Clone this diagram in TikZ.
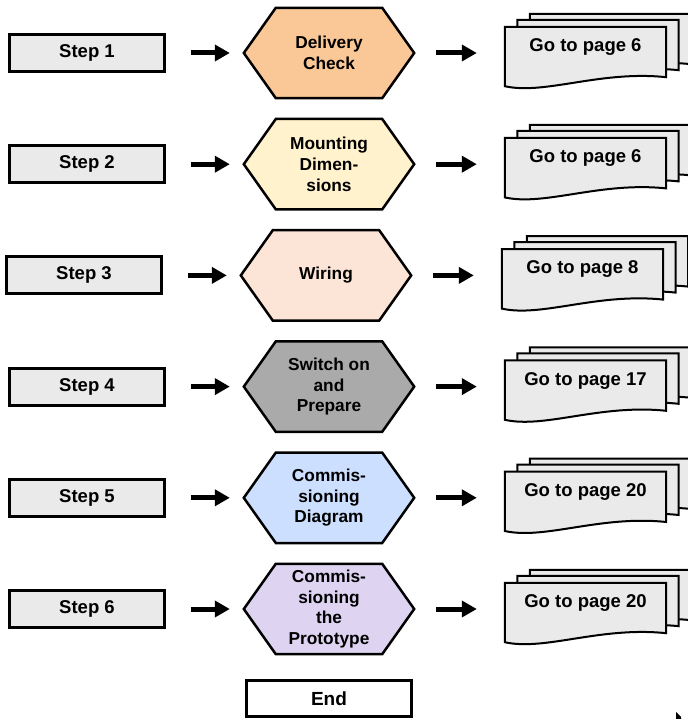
\documentclass[tikz,border=0pt]{standalone}
\usepackage{fontspec}
\setmainfont{Liberation Sans}
\usepackage{tikz}
\usetikzlibrary{arrows.meta}
\usetikzlibrary{calc}
\usetikzlibrary{backgrounds}
\definecolor{uigray}{RGB}{234, 234, 234}
\definecolor{delivery}{RGB}{250, 199, 150}
\definecolor{mounting}{RGB}{255, 242, 204}
\definecolor{wiring}{RGB}{252, 228, 214}
\definecolor{switchon}{RGB}{170, 170, 170}
\definecolor{diagram}{RGB}{204, 223, 255}
\definecolor{prototype}{RGB}{222, 212, 242}
\tikzstyle{stepbox} = [rectangle,fill=uigray,draw,line width=3pt,font=\bfseries\fontsize{18.5}{22}\selectfont,inner sep=0pt,minimum width=155pt,minimum height=37pt]
\tikzstyle{endbox} = [rectangle,fill=white,draw,line width=3pt,font=\bfseries\fontsize{19}{22}\selectfont,inner sep=0pt,minimum width=165pt,minimum height=36pt]
\tikzstyle{hexbox} = [align=center,font=\bfseries\fontsize{17.3}{20.7}\selectfont,inner sep=0pt,minimum width=170pt,minimum height=90pt]
\tikzstyle{hexline} = [draw,line width=2.5pt,line join=miter]
\tikzstyle{pagebox} = [font=\bfseries\fontsize{18.5}{22}\selectfont,inner sep=0pt,minimum width=161pt,minimum height=40pt]
\tikzstyle{pageline} = [fill=uigray,draw,line width=2pt]
\tikzstyle{inarrow} = [shorten <=24.5pt,shorten >=14pt]
\tikzstyle{outarrow} = [shorten <=22pt,shorten >=28pt]

\begin{document}
\begin{tikzpicture}[x=1pt,y=-1pt,node distance=111.2pt,> = {Triangle[length=15pt,width=16pt]}]
    \useasboundingbox (0,0) rectangle (687,719);

      \node[stepbox] (s1) at (87,53)             {Step 1};
      \node[stepbox] (s2) [below of=s1]          {Step 2};
      \node[stepbox] (s3) [below of=s2,xshift=-3pt] {Step 3};
      \node[stepbox] (s4) [below of=s3,xshift=3pt]  {Step 4};
      \node[stepbox] (s5) [below of=s4]          {Step 5};
      \node[stepbox] (s6) [below of=s5]          {Step 6};

      \foreach \i/\txt/\pg in {1/{Delivery\\Check}/6, 2/{Mounting\\Dimen-\\sions}/6,
          3/{Wiring}/8, 4/{Switch on\\and\\Prepare}/17,
          5/{Commis-\\sioning\\Diagram}/20, 6/{Commis-\\sioning\\the\\Prototype}/20} {
        \node[hexbox]  (h\i) [right of=s\i,node distance=242pt] {\txt};
        \node[pagebox] (d\i) [right of=h\i,node distance=256.5pt,yshift=6pt] {Go to page \pg};
      }

      \node[endbox] (end) [below of=h6,node distance=89.5pt] {End};

      \path[->, line width=5pt]
        \foreach \i in {1,...,6} {
          (s\i) edge[inarrow] (h\i)
          (h\i) edge[outarrow] (h\i -| d\i.west)
        } ;

      \begin{pgfonlayer}{background}
        \foreach \i/\c in {1/delivery,2/mounting,3/wiring,4/switchon,5/diagram,6/prototype} {
          \path[hexline,fill=\c] (h\i.west) -- ($(h\i.north west)+(32,0)$) -- ($(h\i.north east)+(-32,0)$)
            -- (h\i.east) -- ($(h\i.south east)+(-32,0)$) -- ($(h\i.south west)+(32,0)$) -- cycle;
          % stack of three pages, back one first
          \foreach \dx/\dy in {25/-13,12.5/-7,0/0} {
            \path[pageline,transform canvas={shift={(\dx,\dy)}}] (d\i.north west) -- ($(d\i.south west)+(0,19)$)
              .. controls +(40,9) and +(-66,-7) .. ($(d\i.south east)+(0,10)$) -- (d\i.north east) -- cycle;
          }
        }
      \end{pgfonlayer}

      \fill (676,712) -- (681,717) -- (681,719) -- (676,719) -- cycle;
    \end{tikzpicture}
\end{document}
